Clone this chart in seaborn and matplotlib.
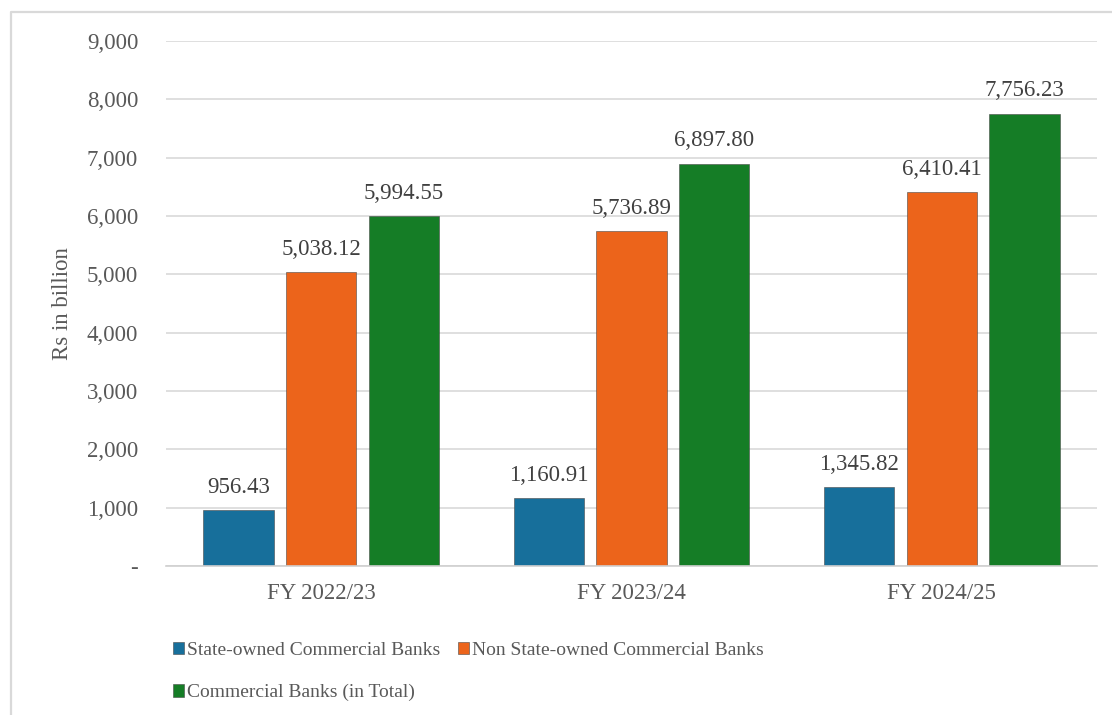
import pandas as pd
import matplotlib.pyplot as plt
from matplotlib.lines import Line2D
from matplotlib.ticker import FuncFormatter
import seaborn as sns

# données (Rs in billion)
years = ['FY 2022/23', 'FY 2023/24', 'FY 2024/25']
series = ['State-owned Commercial Banks', 'Non State-owned Commercial Banks', 'Commercial Banks (in Total)']
state_owned = [956.43, 1160.91, 1345.82]
non_state_owned = [5038.12, 5736.89, 6410.41]
total_banks = [5994.55, 6897.80, 7756.23]
colors = ['#176f9b', '#ec641b', '#157d26']

df = pd.DataFrame({
    'year': years * 3,
    'serie': [s for s in series for _ in years],
    'value': state_owned + non_state_owned + total_banks,
})

sns.set_theme(style='white')
plt.rcParams['font.family'] = ['Liberation Serif', 'DejaVu Serif']
text_color = '#595959'

fig = plt.figure(figsize=(11.12, 7.15), dpi=100)
ax = fig.add_axes([166 / 1112, 1 - 566 / 715, (1097 - 166) / 1112, (566 - 41) / 715])

sns.barplot(data=df, x='year', y='value', hue='serie', hue_order=series, order=years,
            palette=colors, saturation=1, width=0.8, gap=0.15, ax=ax,
            edgecolor='#4a4a4a', linewidth=0.4, legend=True)

# étiquettes de valeur au-dessus des barres
for cont in ax.containers:
    ax.bar_label(cont, labels=[f'{v:,.2f}' for v in cont.datavalues], padding=9,
                 fontsize=16.5, color='#404040')

ax.set_ylim(0, 9000)
ax.set_xlim(-0.5, 2.5)
ax.set_yticks(range(0, 9001, 1000))
ax.yaxis.set_major_formatter(FuncFormatter(lambda v, p: '-' if v == 0 else f'{v:,.0f}'))
ax.grid(axis='y', color='#d9d9d9', linewidth=1.2)
ax.set_axisbelow(True)
for s in ['top', 'right', 'left']:
    ax.spines[s].set_visible(False)
ax.spines['bottom'].set_color('#d0d0d0')
ax.spines['bottom'].set_linewidth(1.2)
ax.tick_params(axis='y', length=0, pad=20, labelsize=16.5, labelcolor=text_color)
ax.tick_params(axis='x', length=0, pad=12, labelsize=16.5, labelcolor=text_color)
ax.set_xlabel('')
ax.set_ylabel('Rs in billion', fontsize=16.5, color=text_color, labelpad=10)

# légende en bas, deux colonnes (ordre par lignes)
handles, labels = ax.get_legend_handles_labels()
ax.legend_.remove()
order = [0, 2, 1]
fig.legend([handles[i] for i in order], [labels[i] for i in order], loc='upper left',
           bbox_to_anchor=(165 / 1112, 1 - 634 / 715),
           ncol=2, frameon=False, fontsize=14, labelcolor=text_color,
           handlelength=0.6, handleheight=0.6, handletextpad=0.12,
           columnspacing=0.9, labelspacing=1.3, borderaxespad=0)

# cadre gris du graphique (gauche et haut)
bx, by = 11 / 1112, 1 - 12 / 715
fig.add_artist(Line2D([bx, bx, 1], [0, by, by], color='#d9d9d9', linewidth=1.6,
                      transform=fig.transFigure))

fig.savefig('out.png', dpi=100)
